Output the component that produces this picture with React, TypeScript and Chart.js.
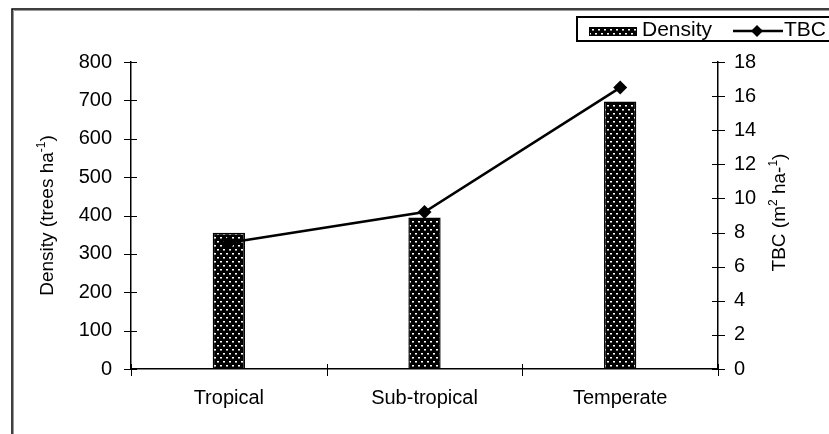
import React, { useEffect, useRef } from "react";
import { Chart, registerables } from "chart.js";

Chart.register(...registerables);

const categories = ["Tropical", "Sub-tropical", "Temperate"];
const densityValues = [355, 395, 697];
const tbcValues = [7.4, 9.2, 16.5];
const densityMax = 800;
const densityStep = 100;
const tbcMax = 18;
const tbcStep = 2;

const FONT = "'Liberation Sans', Arial, sans-serif";

function makePattern(ctx: CanvasRenderingContext2D): CanvasPattern | string {
  const c = document.createElement("canvas");
  c.width = 6;
  c.height = 8;
  const p = c.getContext("2d");
  if (!p) return "#000";
  p.fillStyle = "#000";
  p.fillRect(0, 0, 6, 8);
  p.fillStyle = "#fff";
  p.fillRect(1, 1, 2, 1);
  p.fillRect(4, 5, 2, 1);
  p.fillStyle = "#888";
  p.fillRect(1, 2, 2, 1);
  p.fillRect(4, 6, 2, 1);
  const pat = ctx.createPattern(c, "repeat");
  return pat || "#000";
}

function drawRich(
  ctx: CanvasRenderingContext2D,
  parts: { t: string; sup?: boolean }[],
  size: number
) {
  const supSize = Math.round(size * 0.65);
  let total = 0;
  const widths: number[] = [];
  for (const p of parts) {
    ctx.font = `${p.sup ? supSize : size}px ${FONT}`;
    const w = ctx.measureText(p.t).width;
    widths.push(w);
    total += w;
  }
  let x = -total / 2;
  ctx.textBaseline = "middle";
  ctx.textAlign = "left";
  parts.forEach((p, i) => {
    ctx.font = `${p.sup ? supSize : size}px ${FONT}`;
    ctx.fillText(p.t, x, p.sup ? -size * 0.35 : 0);
    x += widths[i];
  });
}

const decorPlugin = {
  id: "decor",
  afterDraw(chart: any) {
    const ctx: CanvasRenderingContext2D = chart.ctx;
    const { left, right, top, bottom } = chart.chartArea;
    const yS = chart.scales.y;
    const y1S = chart.scales.y1;
    const xS = chart.scales.x;
    ctx.save();
    // frame
    ctx.strokeStyle = "#999";
    ctx.lineWidth = 1;
    ctx.beginPath();
    ctx.moveTo(13.5, 434);
    ctx.lineTo(13.5, 10.5);
    ctx.lineTo(829, 10.5);
    ctx.stroke();
    ctx.strokeStyle = "#000";
    ctx.lineWidth = 1.5;
    ctx.beginPath();
    ctx.moveTo(12, 434);
    ctx.lineTo(12, 9);
    ctx.lineTo(829, 9);
    ctx.stroke();

    // ticks
    ctx.strokeStyle = "#000";
    ctx.lineWidth = 1;
    ctx.beginPath();
    yS.ticks.forEach((t: any) => {
      const py = Math.round(yS.getPixelForValue(t.value)) + 0.5;
      ctx.moveTo(left - 7, py);
      ctx.lineTo(left + 6, py);
    });
    y1S.ticks.forEach((t: any) => {
      const py = Math.round(y1S.getPixelForValue(t.value)) + 0.5;
      ctx.moveTo(right - 6, py);
      ctx.lineTo(right + 7, py);
    });
    for (let i = 0; i <= categories.length; i++) {
      const px = Math.round(xS.getPixelForValue(i - 0.5)) + 0.5;
      ctx.moveTo(px, bottom - 5);
      ctx.lineTo(px, bottom + 7);
    }
    ctx.stroke();

    // axis titles
    ctx.fillStyle = "#000";
    ctx.save();
    ctx.translate(48, (top + bottom) / 2);
    ctx.rotate(-Math.PI / 2);
    drawRich(ctx, [{ t: "Density (trees ha" }, { t: "-1", sup: true }, { t: ")" }], 19);
    ctx.restore();
    ctx.save();
    ctx.translate(780, (top + bottom) / 2 - 3);
    ctx.rotate(-Math.PI / 2);
    drawRich(
      ctx,
      [{ t: "TBC (m" }, { t: "2", sup: true }, { t: " ha-" }, { t: "1", sup: true }, { t: ")" }],
      19
    );
    ctx.restore();

    // legend
    const lx = 577;
    const ly = 17;
    ctx.lineWidth = 2;
    ctx.strokeStyle = "#000";
    ctx.strokeRect(lx, ly, 829 - lx + 5, 24);
    const pat = chart.data.datasets[0].backgroundColor;
    ctx.fillStyle = pat;
    ctx.fillRect(589, 27, 48, 9);
    ctx.lineWidth = 1;
    ctx.strokeRect(589.5, 27.5, 47, 8);
    ctx.fillStyle = "#000";
    ctx.font = `21px ${FONT}`;
    ctx.textBaseline = "middle";
    ctx.textAlign = "left";
    ctx.fillText(chart.data.datasets[0].label, 642, 30);
    ctx.lineWidth = 2.5;
    ctx.beginPath();
    ctx.moveTo(733, 31);
    ctx.lineTo(783, 31);
    ctx.stroke();
    ctx.beginPath();
    ctx.moveTo(757, 25);
    ctx.lineTo(763, 31);
    ctx.lineTo(757, 37);
    ctx.lineTo(751, 31);
    ctx.closePath();
    ctx.fill();
    ctx.fillText(chart.data.datasets[1].label, 784, 30);
    ctx.restore();
  },
};

export default function App() {
  const ref = useRef<HTMLCanvasElement | null>(null);
  useEffect(() => {
    const canvas = ref.current;
    if (!canvas) return;
    const ctx = canvas.getContext("2d");
    if (!ctx) return;
    const pattern = makePattern(ctx);
    const chart = new Chart(canvas, {
      data: {
        labels: categories,
        datasets: [
          {
            type: "bar",
            label: "Density",
            data: densityValues,
            yAxisID: "y",
            backgroundColor: pattern as any,
            borderColor: "#000",
            borderWidth: 1.5,
            categoryPercentage: 1,
            barPercentage: 0.165,
            order: 2,
          },
          {
            type: "line",
            label: "TBC",
            data: tbcValues,
            yAxisID: "y1",
            borderColor: "#000",
            backgroundColor: "#000",
            borderWidth: 2.5,
            pointStyle: "rectRot",
            pointRadius: 7,
            pointBackgroundColor: "#000",
            pointBorderColor: "#000",
            pointBorderWidth: 0,
            tension: 0,
            order: 1,
          },
        ] as any,
      },
      options: {
        responsive: false,
        animation: false,
        layout: { padding: { top: 62, left: 0, right: 0, bottom: 0 } },
        plugins: { legend: { display: false }, tooltip: { enabled: false } },
        scales: {
          x: {
            grid: { display: false },
            border: { display: true, color: "#000", width: 1.5 },
            ticks: { color: "#000", font: { family: FONT, size: 20 }, padding: 9 },
            afterFit: (s: any) => {
              s.height = 65;
            },
          },
          y: {
            position: "left",
            min: 0,
            max: densityMax,
            grid: { display: false },
            border: { display: true, color: "#000", width: 1.5 },
            ticks: { stepSize: densityStep, color: "#000", font: { family: FONT, size: 20 }, padding: 11 },
            afterFit: (s: any) => {
              s.width = 131;
            },
          },
          y1: {
            position: "right",
            min: 0,
            max: tbcMax,
            grid: { display: false },
            border: { display: true, color: "#000", width: 1.5 },
            ticks: { stepSize: tbcStep, color: "#000", font: { family: FONT, size: 20 }, padding: 8 },
            afterFit: (s: any) => {
              s.width = 111;
            },
          },
        },
      } as any,
      plugins: [decorPlugin],
    });
    return () => chart.destroy();
  }, []);
  return (
    <div style={{ position: "fixed", left: 0, top: 0, width: 829, height: 434, background: "#fff" }}>
      <canvas ref={ref} width={829} height={434} style={{ display: "block" }} />
    </div>
  );
}
